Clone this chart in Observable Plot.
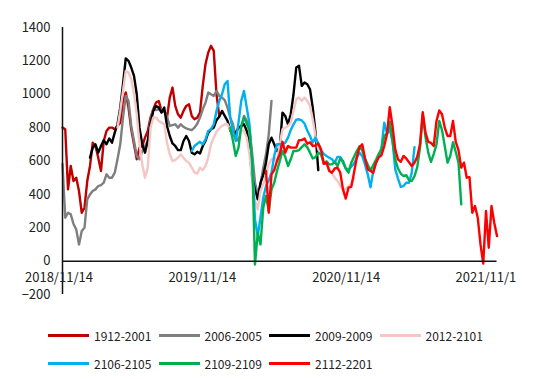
<!DOCTYPE html>
<html><head><meta charset="utf-8">
<script src="https://cdn.jsdelivr.net/npm/d3@7"></script>
<script src="https://cdn.jsdelivr.net/npm/@observablehq/plot@0.6"></script>
<style>
body{margin:0;background:#fff;}
#wrap{position:relative;width:550px;height:379px;font-family:"Noto Sans CJK SC","Noto Sans",sans-serif;}
#legend{position:absolute;left:48px;top:321px;}
.row{display:flex;height:28px;align-items:center;}
.item{display:flex;align-items:center;width:110.5px;}
.sw{width:41px;height:3px;margin-right:5px;}
.lab{font-size:12px;color:#222;white-space:nowrap;}
</style></head>
<body><div id="wrap"><div id="chart"></div><div id="legend"></div></div>
<script>
// weekly observations, first week = 2018-11-14
const startDay = "2018-11-14";
const endDay = "2021-11-24";
const seriesNames = ["1912-2001","2006-2005","2009-2009","2012-2101","2106-2105","2109-2109","2112-2201"];
const seriesColors = ["#C00000","#7F7F7F","#000000","#F4C6C6","#00B0F0","#00B050","#FF0000"];
const seriesStartWeek = [0, 0, 10, 20, 47, 61, 74];

const s1912_2001 = [800,790,430,570,480,500,420,290,320,480,570,710,690,620,540,720,780,800,800,790,810,830,960,1010,920,790,700,610,680,690,740,780,860,910,950,960,900,900,860,980,1040,930,880,860,900,930,940,870,850,860,890,1050,1180,1250,1290,1260,1000,870];
const s2006_2005 = [583,260,290,280,223,190,100,180,200,370,400,420,430,450,455,470,520,500,500,530,610,700,860,990,960,810,720,630,610,660,690,720,843,910,905,910,910,900,865,810,815,820,800,820,805,795,790,785,800,823,860,910,950,1010,1000,990,1020,990,980,965,920,860,820,740,720,800,870,840,790,640,470,400,460,560,640,760,960];
const s2009_2009 = [620,680,700,650,690,725,700,735,710,770,820,920,1060,1215,1200,1160,1110,1000,800,700,650,720,823,900,930,920,890,920,810,750,705,690,665,665,720,750,720,650,640,655,645,690,720,770,790,800,845,865,900,870,840,785,750,770,800,810,820,780,680,500,425,370,470,515,590,700,740,700,660,680,890,870,820,880,1000,1160,1170,1050,1070,1060,1030,920,770,545];
const s2012_2101 = [800,900,1020,1140,1130,1090,1000,880,700,580,500,560,800,860,860,840,830,820,710,640,600,605,620,640,620,600,590,560,530,525,560,545,570,620,700,740,775,795,810,820,820,790,760,740,760,790,780,740,640,480,360,310,420,460,520,580,610,620,600,700,790,800,810,830,900,970,980,960,980,960,930,850,750,670,640,600,585,560,525,500,480,450,425,435,450,460,500];
const s2106_2105 = [660,690,703,715,700,730,780,790,820,900,960,1000,1060,1080,860,780,720,830,960,1020,920,820,580,250,150,263,380,450,483,530,630,700,700,700,710,740,785,820,848,850,843,825,783,750,710,740,705,663,643,630,620,610,590,625,625,590,555,550,565,585,620,650,630,580,520,443,540,590,630,680,830,765,790,720,550,495,445,450,470,470,530,683];
const s2109_2109 = [800,720,630,680,810,860,825,780,600,-20,170,100,320,390,300,430,470,540,600,660,625,570,610,660,660,665,683,700,683,650,615,623,650,640,585,598,580,580,595,570,615,600,555,530,590,625,660,688,663,615,578,543,575,608,643,670,750,765,835,720,610,555,525,510,515,485,480,510,563,680,880,743,650,595,643,700,840,785,690,590,630,713,655,590,340];
const s2112_2201 = [540,290,520,545,600,640,715,650,690,680,680,680,725,725,735,703,712,690,693,705,670,583,590,540,530,555,560,530,430,375,440,445,530,620,683,700,615,550,540,530,590,623,635,690,760,923,810,670,610,595,630,615,593,570,590,625,700,893,770,715,708,690,840,903,880,800,750,750,840,715,665,560,590,500,503,290,330,260,100,-15,300,80,330,230,150];

const yTicks = [-200,0,200,400,600,800,1000,1200,1400];
const xTickDays = ["2018-11-14","2019-11-14","2020-11-14","2021-11-14"];
const xTickLabels = ["2018/11/14","2019/11/14","2020/11/14","2021/11/1"];

const seriesValues = [s1912_2001,s2006_2005,s2009_2009,s2012_2101,s2106_2105,s2109_2109,s2112_2201];
const start = new Date(startDay + "T00:00:00Z");
const end = new Date(endDay + "T00:00:00Z");
const weekDate = k => d3.utcDay.offset(start, 7 * k);

const lineMarks = seriesValues.map((vals, si) =>
  Plot.line(vals.map((v, i) => ({date: weekDate(seriesStartWeek[si] + i), value: v})),
    {x: "date", y: "value", stroke: seriesColors[si], strokeWidth: 2.4, strokeLinejoin: "round"}));

const xTicks = xTickDays.map((d, i) => ({date: new Date(d + "T00:00:00Z"), label: xTickLabels[i]}));

const chart = Plot.plot({
  width: 550, height: 315,
  marginLeft: 62, marginRight: 53.5, marginTop: 27, marginBottom: 21,
  style: {fontFamily: '"Noto Sans CJK SC","Noto Sans",sans-serif', color: "#222", background: "#fff"},
  x: {type: "utc", domain: [start, end], axis: null},
  y: {domain: [-200, 1400], axis: null},
  marks: [
    ...lineMarks,
    Plot.ruleY([0], {stroke: "#111", strokeWidth: 1.5}),
    Plot.ruleX([start], {y1: -200, y2: 1400, stroke: "#111", strokeWidth: 1.5}),
    Plot.axisY(yTicks, {tickSize: 0, tickPadding: 12, fontSize: 13, label: null, tickFormat: d => (d < 0 ? "\u2212" + Math.abs(d) : String(d))}),
    Plot.text(xTicks, {x: "date", y: () => 0, text: "label", dy: 16.5, dx: -37.5, textAnchor: "start", fontSize: 13, fill: "#222"})
  ]
});
document.getElementById("chart").appendChild(chart);

const legend = document.getElementById("legend");
const rows = [[0,1,2,3],[4,5,6]];
rows.forEach(r => {
  const row = document.createElement("div");
  row.className = "row";
  r.forEach(i => {
    const item = document.createElement("div");
    item.className = "item";
    const sw = document.createElement("span");
    sw.className = "sw";
    sw.style.background = seriesColors[i];
    const lab = document.createElement("span");
    lab.className = "lab";
    lab.textContent = seriesNames[i];
    item.appendChild(sw); item.appendChild(lab);
    row.appendChild(item);
  });
  legend.appendChild(row);
});
</script></body></html>
